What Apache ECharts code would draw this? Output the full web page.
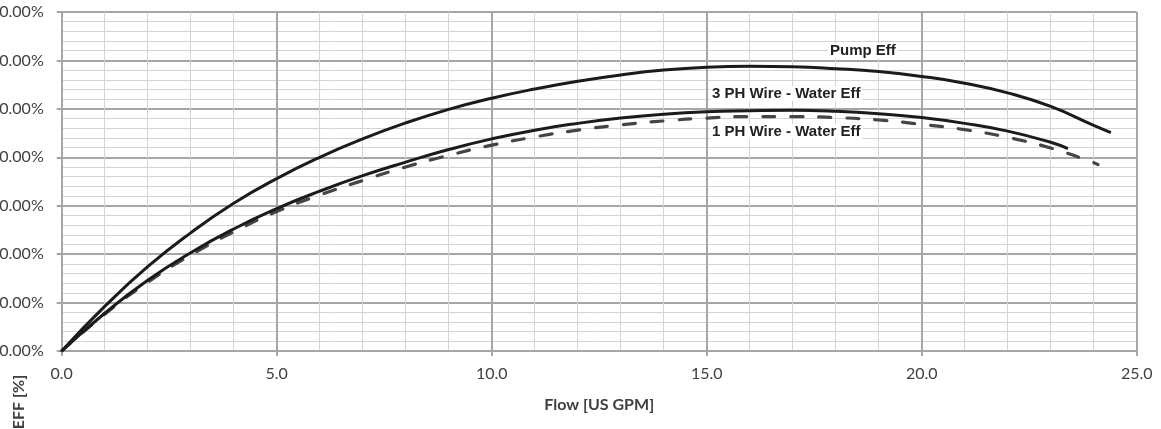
<!DOCTYPE html>
<html>
<head>
<meta charset="utf-8">
<script src="https://cdn.jsdelivr.net/npm/echarts@6/dist/echarts.min.js"></script>
<style>html,body{margin:0;padding:0;background:#fff;}#c{width:1161px;height:429px;}</style>
</head>
<body>
<div id="c"></div>
<script>
// Flow [US GPM] vs efficiency [%]
const pumpFlow = [0, 1, 2, 3, 4, 5, 6, 7, 8, 9, 10, 11, 12, 13, 14, 15, 16, 17, 18, 19, 20, 21, 22, 23, 24, 24.4];
const pumpEff  = [0, 9.2, 17.4, 24.4, 30.5, 35.6, 40.0, 43.8, 47.1, 49.9, 52.2, 54.1, 55.7, 57.0, 58.0, 58.6, 58.8, 58.7, 58.3, 57.7, 56.7, 55.3, 53.3, 50.5, 46.6, 45.1];
const ph3Flow = [0, 1, 2, 3, 4, 5, 6, 7, 8, 9, 10, 11, 12, 13, 14, 15, 16, 17, 18, 19, 20, 21, 22, 23, 23.4];
const ph3Eff  = [0, 7.8, 14.6, 20.3, 25.2, 29.4, 33.0, 36.2, 39.0, 41.6, 43.8, 45.6, 47.0, 48.1, 48.9, 49.4, 49.6, 49.7, 49.5, 49.0, 48.2, 47.0, 45.4, 43.1, 41.8];
const ph1Flow = [0, 1, 2, 3, 4, 5, 6, 7, 8, 9, 10, 11, 12, 13, 14, 15, 16, 17, 18, 19, 20, 21, 22, 23, 24, 24.1];
const ph1Eff  = [0, 7.6, 14.2, 19.8, 24.6, 28.8, 32.2, 35.2, 38.0, 40.4, 42.5, 44.2, 45.6, 46.7, 47.5, 48.1, 48.4, 48.4, 48.2, 47.7, 46.8, 45.7, 44.1, 41.9, 38.9, 38.5];
const seriesNames = ['Pump Eff', '3 PH Wire - Water Eff', '1 PH Wire - Water Eff'];
const xTitle = 'Flow [US GPM]';
const yTitle = 'EFF [%]';

const zip = (xs, ys) => xs.map((x, i) => [x, ys[i]]);

const chart = echarts.init(document.getElementById('c'), null, {renderer: 'canvas'});
const labelFont = 'Lato, "Open Sans", sans-serif';
const annFont = 'bold 15px "Liberation Sans", Arial, sans-serif';
chart.setOption({
  animation: false,
  grid: {left: 61.7, right: 24.3, top: 12, bottom: 78, containLabel: false, outerBoundsMode: 'none'},
  xAxis: {
    type: 'value', min: 0, max: 25, interval: 5,
    name: xTitle, nameLocation: 'middle', nameGap: 46,
    nameTextStyle: {fontFamily: labelFont, fontWeight: 'bold', fontSize: 16, color: '#404040'},
    axisLine: {show: true, onZero: false, lineStyle: {color: '#a6a6a6', width: 2}},
    axisTick: {show: true, length: 5, lineStyle: {color: '#a6a6a6', width: 2}},
    axisLabel: {formatter: v => v.toFixed(1), fontFamily: labelFont, fontSize: 16, color: '#404040', margin: 15},
    splitLine: {show: true, lineStyle: {color: '#a6a6a6', width: 2}},
    minorTick: {show: false, splitNumber: 5},
    minorSplitLine: {show: true, lineStyle: {color: '#d4d4d4', width: 1}}
  },
  yAxis: {
    type: 'value', min: 0, max: 70, interval: 10,
    axisLine: {show: true, lineStyle: {color: '#a6a6a6', width: 2}},
    axisTick: {show: true, length: 5, lineStyle: {color: '#a6a6a6', width: 2}},
    axisLabel: {formatter: v => v.toFixed(2) + '%', fontFamily: labelFont, fontSize: 16, color: '#404040', margin: 18},
    splitLine: {show: true, lineStyle: {color: '#a6a6a6', width: 2}},
    minorTick: {show: false, splitNumber: 5},
    minorSplitLine: {show: true, lineStyle: {color: '#d4d4d4', width: 1}}
  },
  series: [
    {name: seriesNames[0], type: 'line', data: zip(pumpFlow, pumpEff), smooth: true, showSymbol: false,
     lineStyle: {color: '#1e1a1a', width: 3}, z: 5},
    {name: seriesNames[1], type: 'line', data: zip(ph3Flow, ph3Eff), smooth: true, showSymbol: false,
     lineStyle: {color: '#1e1a1a', width: 3}, z: 5},
    {name: seriesNames[2], type: 'line', data: zip(ph1Flow, ph1Eff), smooth: true, showSymbol: false,
     lineStyle: {color: '#454545', width: 3.2, type: [12, 16], cap: 'round'}, z: 4}
  ],
  graphic: [
    {type: 'text', x: 828, y: 51, z: 10, style: {text: seriesNames[0], font: annFont, fill: '#222', backgroundColor: '#fff', padding: [0, 2], verticalAlign: 'middle'}},
    {type: 'text', x: 710, y: 93.5, z: 10, style: {text: seriesNames[1], font: annFont, fill: '#222', backgroundColor: '#fff', padding: [0, 2], verticalAlign: 'middle'}},
    {type: 'text', x: 710, y: 131.5, z: 10, style: {text: seriesNames[2], font: annFont, fill: '#222', backgroundColor: '#fff', padding: [0, 2], verticalAlign: 'middle'}},
    {type: 'text', x: 18.5, y: 402, rotation: Math.PI / 2,
     style: {text: yTitle, font: 'bold 16px Lato, "Open Sans", sans-serif', fill: '#404040', align: 'center', verticalAlign: 'middle'}}
  ]
});
</script>
</body>
</html>
